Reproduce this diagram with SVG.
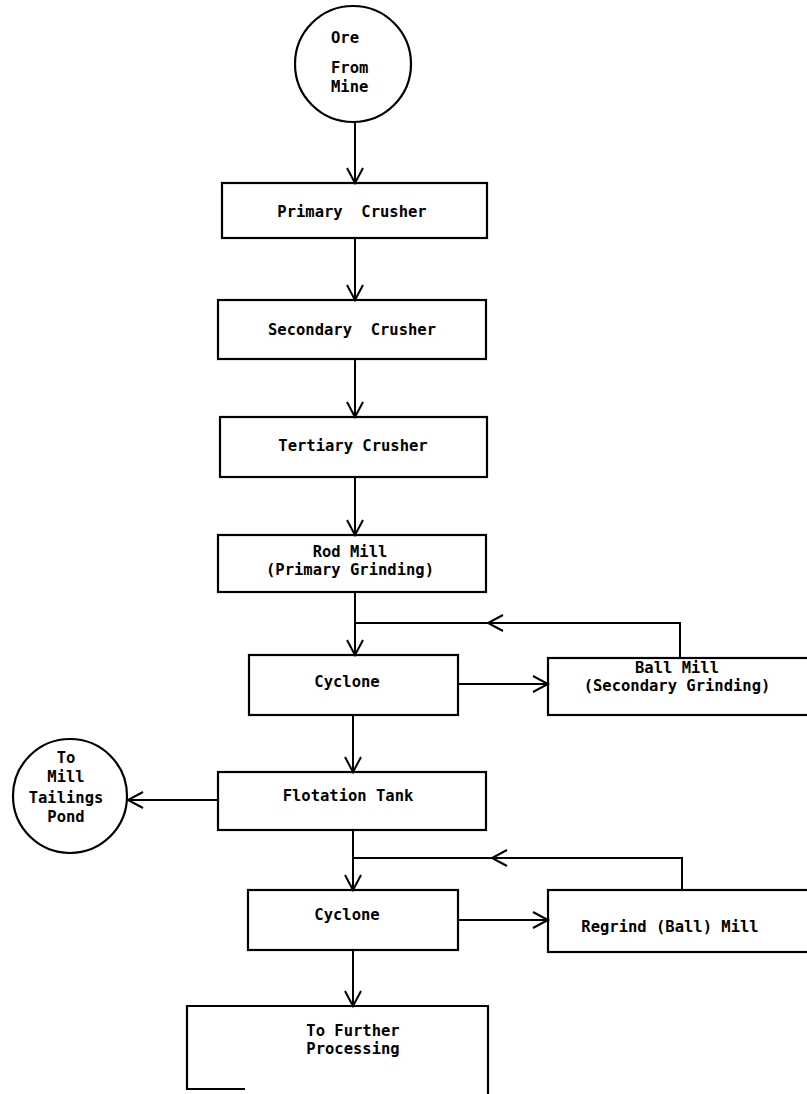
<svg xmlns="http://www.w3.org/2000/svg" width="807" height="1094" viewBox="0 0 807 1094">
<defs>
<style>
.box{fill:none;stroke:#000;stroke-width:2.2}
.ln{fill:none;stroke:#000;stroke-width:2}
text{font-family:"DejaVu Sans Mono","Liberation Mono",monospace;font-size:15.5px;font-weight:bold;fill:#000;text-anchor:middle;white-space:pre}
</style>
<marker id="ah" markerUnits="userSpaceOnUse" markerWidth="20" markerHeight="20" viewBox="-16 -10 20 20" refX="0" refY="0" orient="auto">
<path d="M-15,-8 L0,0 L-15,8" fill="none" stroke="#000" stroke-width="2"/>
</marker>
</defs>
<rect width="807" height="1094" fill="#fff"/>
<g id="connectors">
<path class="ln" d="M355,122 V183" marker-end="url(#ah)"/>
<path class="ln" d="M355,238 V300" marker-end="url(#ah)"/>
<path class="ln" d="M355,359 V417" marker-end="url(#ah)"/>
<path class="ln" d="M355,477 V535" marker-end="url(#ah)"/>
<path class="ln" d="M355,592 V655" marker-end="url(#ah)"/>
<path class="ln" d="M680,658 V623 H488" marker-end="url(#ah)"/>
<path class="ln" d="M488,623 H355"/>
<path class="ln" d="M458,684 H548" marker-end="url(#ah)"/>
<path class="ln" d="M353,715 V772" marker-end="url(#ah)"/>
<path class="ln" d="M218,800 H128" marker-end="url(#ah)"/>
<path class="ln" d="M353,830 V890" marker-end="url(#ah)"/>
<path class="ln" d="M682,890 V858 H492" marker-end="url(#ah)"/>
<path class="ln" d="M492,858 H353"/>
<path class="ln" d="M458,920 H548" marker-end="url(#ah)"/>
<path class="ln" d="M353,950 V1006" marker-end="url(#ah)"/>
</g>
<g id="ore">
<circle class="box" cx="353" cy="64" r="58"/>
<text x="331" y="43" style="text-anchor:start">Ore</text>
<text x="331" y="73" style="text-anchor:start">From</text>
<text x="331" y="92" style="text-anchor:start">Mine</text>
</g>
<g id="primary">
<rect class="box" x="222" y="183" width="265" height="55"/>
<text x="352" y="217" xml:space="preserve">Primary  Crusher</text>
</g>
<g id="secondary">
<rect class="box" x="218" y="300" width="268" height="59"/>
<text x="352" y="335" xml:space="preserve">Secondary  Crusher</text>
</g>
<g id="tertiary">
<rect class="box" x="220" y="417" width="267" height="60"/>
<text x="353" y="451">Tertiary Crusher</text>
</g>
<g id="rodmill">
<rect class="box" x="218" y="535" width="268" height="57"/>
<text x="350" y="557">Rod Mill</text>
<text x="350" y="575">(Primary Grinding)</text>
</g>
<g id="cyclone1">
<rect class="box" x="249" y="655" width="209" height="60"/>
<text x="347" y="687">Cyclone</text>
</g>
<g id="ballmill">
<rect class="box" x="548" y="658" width="262" height="57"/>
<text x="677" y="673">Ball Mill</text>
<text x="677" y="691">(Secondary Grinding)</text>
</g>
<g id="flotation">
<rect class="box" x="218" y="772" width="268" height="58"/>
<text x="348" y="801">Flotation Tank</text>
</g>
<g id="tailings">
<circle class="box" cx="70" cy="796" r="57"/>
<text x="66" y="763">To</text>
<text x="66" y="782">Mill</text>
<text x="66" y="803">Tailings</text>
<text x="66" y="822">Pond</text>
</g>
<g id="cyclone2">
<rect class="box" x="248" y="890" width="210" height="60"/>
<text x="347" y="920">Cyclone</text>
</g>
<g id="regrind">
<rect class="box" x="548" y="890" width="262" height="62"/>
<text x="670" y="932">Regrind (Ball) Mill</text>
</g>
<g id="further">
<path class="box" d="M245,1089 H187 V1006 H488 V1094"/>
<text x="353" y="1036">To Further</text>
<text x="353" y="1054">Processing</text>
</g>
</svg>
